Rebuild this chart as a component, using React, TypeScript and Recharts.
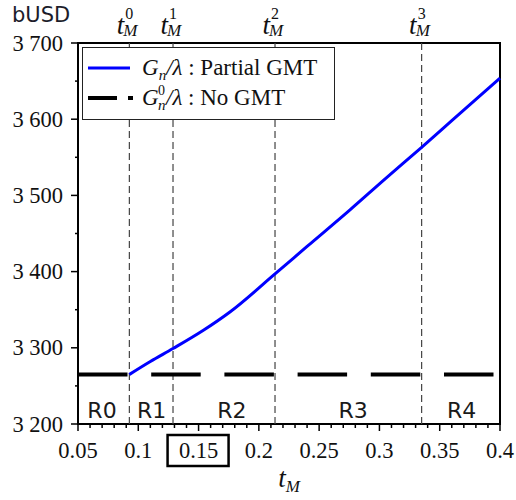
import React from "react";
import {
  Legend,
  Line,
  LineChart,
  ReferenceArea,
  ReferenceDot,
  ReferenceLine,
  XAxis,
  YAxis,
} from "recharts";

// values
const T_M = [0.0926, 0.1288, 0.2134, 0.335];
const T_M_INDEX = ["0", "1", "2", "3"];

const PARTIAL_T = [0.0926, 0.11, 0.1288, 0.154, 0.176, 0.2134, 0.24, 0.2756, 0.305, 0.335, 0.36, 0.38, 0.4];
const PARTIAL_G = [3265, 3282, 3299, 3323, 3347, 3397, 3433, 3481, 3522, 3563, 3598, 3626, 3654];

const NO_GMT_T = [0.05, 0.4];
const NO_GMT_G = [3265, 3265];

const REGIONS = ["R0", "R1", "R2", "R3", "R4"];
const REGION_X = [0.0699, 0.1111, 0.1777, 0.2781, 0.3682];
const REGION_Y = 3208;

const X_TICKS = [
  0.05, 0.06, 0.07, 0.08, 0.09, 0.1, 0.11, 0.12, 0.13, 0.14, 0.15, 0.16,
  0.17, 0.18, 0.19, 0.2, 0.21, 0.22, 0.23, 0.24, 0.25, 0.26, 0.27, 0.28,
  0.29, 0.3, 0.31, 0.32, 0.33, 0.34, 0.35, 0.36, 0.37, 0.38, 0.39, 0.4,
];
const X_MAJOR = [0.05, 0.1, 0.15, 0.2, 0.25, 0.3, 0.35, 0.4];
const X_LABELS = ["0.05", "0.1", "0.15", "0.2", "0.25", "0.3", "0.35", "0.4"];
const X_BOXED = "0.15";

const Y_TICKS = [3200, 3250, 3300, 3350, 3400, 3450, 3500, 3550, 3600, 3650, 3700];
const Y_MAJOR = [3200, 3300, 3400, 3500, 3600, 3700];
const Y_LABELS = ["3 200", "3 300", "3 400", "3 500", "3 600", "3 700"];

const partialData = PARTIAL_T.map((t, i) => ({ t, g: PARTIAL_G[i] }));
const noGmtData = NO_GMT_T.map((t, i) => ({ t, g: NO_GMT_G[i] }));

const SERIF = '"Liberation Serif", "DejaVu Serif", serif';
const SANS = '"DejaVu Sans", sans-serif';
const INK = "#111";

function XTick(props: any) {
  const { x, y, payload } = props;
  const idx = X_MAJOR.findIndex((m) => Math.abs(m - payload.value) < 1e-6);
  const major = idx >= 0;
  return (
    <g>
      <line x1={x} x2={x} y1={y} y2={y + (major ? 7 : 4)} stroke="#000" strokeWidth={1.5} />
      {major && (
        <text x={x} y={y + 34} textAnchor="middle" fontFamily={SERIF} fontSize={22.5} fill={INK}>
          {X_LABELS[idx]}
        </text>
      )}
      {major && X_LABELS[idx] === X_BOXED && (
        <rect x={x - 31} y={y + 11} width={61} height={31} fill="none" stroke="#000" strokeWidth={2.5} />
      )}
    </g>
  );
}

function YTick(props: any) {
  const { x, y, payload } = props;
  const idx = Y_MAJOR.indexOf(payload.value);
  const major = idx >= 0;
  return (
    <g>
      <line x1={x - (major ? 7 : 3)} x2={x} y1={y} y2={y} stroke="#000" strokeWidth={1.5} />
      {major && (
        <text x={x - 15} y={y + 7.5} textAnchor="end" fontFamily={SERIF} fontSize={22.5} fill={INK}>
          {Y_LABELS[idx]}
        </text>
      )}
    </g>
  );
}

function TopLabel({ viewBox, k }: any) {
  const x = viewBox.x;
  const top = viewBox.y;
  return (
    <g fontFamily={SERIF} fill={INK}>
      <text x={x - 5} y={top - 9} textAnchor="end" fontSize={27} fontStyle="italic">t</text>
      <text x={x - 6} y={top - 7} fontSize={17} fontStyle="italic">M</text>
      <text x={x - 4} y={top - 24} fontSize={16}>{k}</text>
    </g>
  );
}

function LegendBox() {
  return (
    <div
      style={{
        width: 253,
        height: 73,
        boxSizing: "border-box",
        border: "1px solid #222",
        background: "#fff",
      }}
    >
      <svg width={251} height={71} style={{ display: "block" }}>
        <line x1={5} x2={47} y1={20} y2={20} stroke="#0000ff" strokeWidth={3} />
        <text x={59} y={27} fontFamily={SERIF} fontSize={23} fill={INK}>
          <tspan fontStyle="italic">G</tspan>
          <tspan fontStyle="italic" fontSize={15} dy={5}>n</tspan>
          <tspan fontStyle="italic" dy={-5}>/λ</tspan>
          <tspan> : Partial GMT</tspan>
        </text>
        <line x1={5} x2={34} y1={50} y2={50} stroke="#000" strokeWidth={4} />
        <line x1={45} x2={50} y1={50} y2={50} stroke="#000" strokeWidth={4} />
        <text x={59} y={57} fontFamily={SERIF} fontSize={23} fontStyle="italic" fill={INK}>G</text>
        <text x={75} y={47} fontFamily={SERIF} fontSize={14} fill={INK}>0</text>
        <text x={75} y={62} fontFamily={SERIF} fontSize={15} fontStyle="italic" fill={INK}>n</text>
        <text x={83} y={57} fontFamily={SERIF} fontSize={23} fill={INK}>
          <tspan fontStyle="italic">/λ</tspan>
          <tspan> : No GMT</tspan>
        </text>
      </svg>
    </div>
  );
}

export default function App() {
  return (
    <div style={{ position: "absolute", left: 0, top: 0, background: "#fff" }}>
      <LineChart width={516} height={500} margin={{ top: 43, right: 16, bottom: 0, left: 0 }}>
        <XAxis
          type="number"
          dataKey="t"
          domain={[0.05, 0.4]}
          ticks={X_TICKS}
          interval={0}
          height={76}
          axisLine={false}
          tickLine={false}
          tickSize={0}
          tickMargin={0}
          tick={<XTick />}
          label={(p: any) => {
            const vb = p.viewBox;
            return (
              <text x={vb.x + vb.width / 2} y={487} textAnchor="middle" fontFamily={SERIF} fill={INK}>
                <tspan fontStyle="italic" fontSize={27}>t</tspan>
                <tspan fontStyle="italic" fontSize={17} dy={5}>M</tspan>
              </text>
            );
          }}
        />
        <YAxis
          type="number"
          domain={[3200, 3700]}
          ticks={Y_TICKS}
          interval={0}
          width={78}
          axisLine={false}
          tickLine={false}
          tickSize={0}
          tickMargin={0}
          tick={<YTick />}
          label={() => (
            <text x={12} y={22} fontFamily={SANS} fontSize={21} fill="#1c1c2a">
              bUSD
            </text>
          )}
        />
        <Legend
          layout="horizontal"
          verticalAlign="middle"
          align="center"
          wrapperStyle={{ left: 82, top: 47, width: 253, height: 73 }}
          content={() => <LegendBox />}
        />
        {T_M.map((t, i) => (
          <ReferenceLine
            key={t}
            x={t}
            stroke="#444"
            strokeWidth={1.2}
            strokeDasharray="7 4"
            label={(p: any) => <TopLabel viewBox={p.viewBox} k={T_M_INDEX[i]} />}
          />
        ))}
        {REGIONS.map((r, i) => (
          <ReferenceDot
            key={r}
            x={REGION_X[i]}
            y={REGION_Y}
            r={0}
            shape={(p: any) => (
              <text x={p.cx} y={p.cy} textAnchor="middle" fontFamily={SANS} fontSize={22} fill="#1a1a1a">
                {r}
              </text>
            )}
          />
        ))}
        <Line
          data={noGmtData}
          dataKey="g"
          type="linear"
          stroke="#000"
          strokeWidth={4}
          strokeDasharray="49.5 23.7"
          dot={false}
          activeDot={false}
          isAnimationActive={false}
        />
        <Line
          data={partialData}
          dataKey="g"
          type="monotone"
          stroke="#0000ff"
          strokeWidth={3}
          dot={false}
          activeDot={false}
          isAnimationActive={false}
        />
        <ReferenceArea
          x1={0.05}
          x2={0.4}
          y1={3200}
          y2={3700}
          fill="none"
          fillOpacity={0}
          stroke="#000"
          strokeWidth={2}
        />
      </LineChart>
    </div>
  );
}
